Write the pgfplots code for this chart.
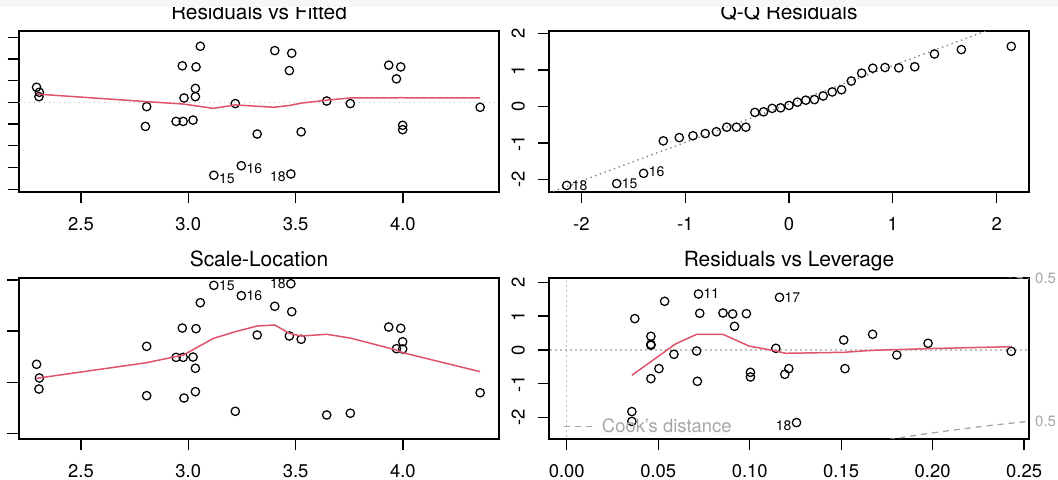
\documentclass[border=0pt]{standalone}
\usepackage{pgfplots}
\pgfplotsset{compat=1.18}
\usepackage{fontspec}
\setmainfont{TeX Gyre Heros}
\definecolor{rred}{HTML}{DF536B}
\definecolor{rgray}{HTML}{BEBEBE}
\definecolor{qqgray}{HTML}{808080}
\definecolor{cookgray}{HTML}{A6A6A6}
\definecolor{band}{HTML}{F7F7F7}
\tikzset{idlab/.style={inner sep=0pt, font=\fontsize{14}{15}\selectfont}}
\pgfplotsset{
  rpanel/.style={
    scale only axis, width=480bp, height=161bp, anchor=south west,
    axis line style={line width=1.3bp, black},
    major tick style={line width=1.3bp, black},
    tick align=outside, major tick length=11.5bp,
    tick pos=left, clip mode=individual,
    ticklabel style={font=\fontsize{18.5}{20}\selectfont},
    xticklabel style={anchor=base, yshift=-27bp},
    every axis title shift=0pt,
    title style={font=\fontsize{21}{23}\selectfont, anchor=base, at={(0.5,1)}, yshift=11.3bp},
  },
  pts/.style={only marks, mark=o, mark size=4.2bp, mark options={line width=1.25bp, black}},
  loess/.style={rred, line width=1.5bp, no marks},
  dotl/.style={rgray, line width=1.3bp, dash pattern=on 1.4bp off 3.6bp, no marks},
}
\begin{document}
\begin{tikzpicture}[x=1bp,y=1bp]
\path[use as bounding box] (0,0) rectangle (1058,480);

% Residuals vs Fitted
\begin{axis}[rpanel, at={(19bp,288bp)}, xmin=2.211, xmax=4.448, ymin=-2.065, ymax=1.642,
  xtick={2.5,3,3.5,4}, xticklabels={2.5,3.0,3.5,4.0},
  ytick={-2,-1.5,-1,-0.5,0,0.5,1,1.5}, yticklabels={},
  title={Residuals vs Fitted}]
\addplot[dotl] coordinates {(2.0,0) (4.6,0)};
\addplot[pts] table {
2.293 0.346
2.306 0.231
2.304 0.13
2.806 -0.10
2.80 -0.555
2.943 -0.44
2.976 -0.44
2.972 0.84
2.980 0.10
3.022 -0.41
3.033 0.32
3.033 0.13
3.036 0.815
3.056 1.29
3.119 -1.68
3.247 -1.46
3.219 -0.03
3.321 -0.73
3.403 1.19
3.471 0.73
3.482 1.13
3.478 -1.65
3.526 -0.68
3.645 0.03
3.755 -0.03
3.934 0.855
3.990 0.815
3.970 0.54
3.999 -0.53
3.999 -0.63
4.360 -0.115
};
\addplot[loess] table {
2.293 0.19
2.806 0.015
2.977 -0.04
3.117 -0.14
3.219 -0.06
3.397 -0.115
3.475 -0.07
3.526 -0.02
3.645 0.05
3.755 0.10
3.99 0.105
4.36 0.10
};
\node[idlab, anchor=west, xshift=5bp, yshift=-3bp] at (axis cs:3.119,-1.68) {15};
\node[idlab, anchor=west, xshift=5bp, yshift=-2.5bp] at (axis cs:3.247,-1.46) {16};
\node[idlab, anchor=east, xshift=-5bp, yshift=-3bp] at (axis cs:3.478,-1.65) {18};
\end{axis}

% Q-Q Residuals
\begin{axis}[rpanel, at={(549bp,288bp)}, xmin=-2.312, xmax=2.312, ymin=-2.34, ymax=2.07,
  xtick={-2,-1,0,1,2}, xticklabels={-2,-1,0,1,2},
  ytick={-2,-1,0,1,2}, yticklabels={-2,-1,0,1,2},
  yticklabel style={rotate=90, anchor=base}, yticklabel shift=12.8bp,
  title={Q-Q Residuals}]
\addplot[qqgray, line width=1.3bp, dash pattern=on 1.4bp off 3.6bp, no marks] coordinates {(-2.5,-2.5625) (2.5,2.7025)};
\addplot[pts] table {
-2.141 -2.16
-1.660 -2.11
-1.401 -1.83
-1.211 -0.94
-1.057 -0.85
-0.925 -0.80
-0.807 -0.74
-0.700 -0.69
-0.600 -0.565
-0.506 -0.565
-0.416 -0.565
-0.329 -0.16
-0.245 -0.145
-0.162 -0.05
-0.081 -0.035
0.000 0.03
0.081 0.12
0.162 0.175
0.245 0.19
0.329 0.29
0.416 0.40
0.506 0.46
0.600 0.70
0.700 0.915
0.807 1.05
0.925 1.07
1.057 1.06
1.211 1.09
1.401 1.44
1.660 1.56
2.141 1.65
};
\node[idlab, anchor=west, xshift=5bp] at (axis cs:-2.141,-2.16) {18};
\node[idlab, anchor=west, xshift=5bp] at (axis cs:-1.660,-2.11) {15};
\node[idlab, anchor=west, xshift=5bp, yshift=2bp] at (axis cs:-1.401,-1.83) {16};
\end{axis}

% Scale-Location
\begin{axis}[rpanel, at={(19bp,41bp)}, xmin=2.211, xmax=4.448, ymin=-0.056, ymax=1.52,
  xtick={2.5,3,3.5,4}, xticklabels={2.5,3.0,3.5,4.0},
  ytick={0,0.5,1,1.5}, yticklabels={},
  title={Scale-Location}]
\addplot[pts] table {
2.293 0.675
2.306 0.541
2.304 0.433
2.806 0.851
2.806 0.368
2.943 0.743
2.976 0.743
2.972 1.030
2.980 0.345
3.022 0.746
3.033 0.636
3.033 0.407
3.036 1.024
3.056 1.278
3.119 1.448
3.247 1.347
3.219 0.215
3.321 0.962
3.403 1.243
3.471 0.952
3.482 1.190
3.478 1.464
3.526 0.920
3.645 0.179
3.755 0.196
3.934 1.040
3.990 1.027
3.970 0.828
3.999 0.896
3.999 0.825
4.360 0.397
};
\addplot[loess] table {
2.293 0.538
2.806 0.691
2.977 0.766
3.117 0.929
3.219 0.994
3.321 1.050
3.403 1.060
3.471 0.978
3.526 0.952
3.645 0.969
3.755 0.932
3.970 0.815
3.999 0.789
4.360 0.603
};
\node[idlab, anchor=west, xshift=5bp] at (axis cs:3.119,1.448) {15};
\node[idlab, anchor=west, xshift=5bp] at (axis cs:3.247,1.347) {16};
\node[idlab, anchor=east, xshift=-5bp] at (axis cs:3.478,1.464) {18};
\end{axis}

% Residuals vs Leverage
\begin{axis}[rpanel, at={(549bp,41bp)}, xmin=-0.0097, xmax=0.2527, ymin=-2.63, ymax=2.127,
  xtick={0,0.05,0.1,0.15,0.2,0.25}, xticklabels={0.00,0.05,0.10,0.15,0.20,0.25},
  ytick={-2,-1,0,1,2}, yticklabels={-2,-1,0,1,2},
  yticklabel style={rotate=90, anchor=base}, yticklabel shift=12.8bp,
  title={Residuals vs Leverage},
  legend style={at={(axis cs:-0.0018,-2.266)}, anchor=west, draw=none, fill=none,
    inner sep=0pt, nodes={inner sep=0pt, text=cookgray},
    font=\fontsize{18.5}{20}\selectfont,
    /tikz/every odd column/.append style={column sep=4bp}},
  legend image code/.code={\draw[#1] (0bp,0bp) -- (33bp,0bp);}]
\addplot[cookgray, line width=1.3bp, dash pattern=on 6bp off 5bp, no marks] table {
0.17 -2.706
0.18 -2.614
0.19 -2.529
0.20 -2.449
0.21 -2.375
0.22 -2.306
0.23 -2.241
0.24 -2.179
0.25 -2.121
0.26 -2.066
};
\addplot[cookgray, line width=1.3bp, dash pattern=on 6bp off 5bp, no marks, forget plot] table {
0.24 2.179
0.25 2.121
0.26 2.066
};
\addplot[dotl, forget plot] coordinates {(-0.05,0) (0.3,0)};
\addplot[dotl, forget plot] coordinates {(0,-3) (0,3)};
\addplot[pts, forget plot] table {
0.0372 0.926
0.0356 -1.82
0.0356 -2.11
0.0460 0.404
0.0460 0.167
0.0460 0.138
0.0460 -0.847
0.0504 -0.551
0.0535 1.438
0.0586 -0.128
0.0710 -0.030
0.0714 -0.926
0.0720 1.654
0.0727 1.083
0.0854 1.093
0.0907 1.064
0.0917 0.699
0.0982 1.073
0.1004 -0.660
0.1004 -0.798
0.1143 0.049
0.1163 1.556
0.1192 -0.719
0.1214 -0.551
0.1256 -2.146
0.1514 0.295
0.1521 -0.551
0.1672 0.463
0.1804 -0.148
0.1975 0.197
0.2430 -0.040
};
\addplot[loess, forget plot] table {
0.0356 -0.748
0.0594 0.177
0.0710 0.463
0.0854 0.463
0.0995 0.118
0.1143 -0.030
0.1196 -0.098
0.1514 -0.069
0.1672 -0.010
0.1975 0.040
0.2430 0.098
};
\legend{Cook's distance}
\node[idlab, anchor=west, xshift=5bp] at (axis cs:0.0720,1.654) {11};
\node[idlab, anchor=west, xshift=5bp] at (axis cs:0.1163,1.556) {17};
\node[idlab, anchor=east, xshift=-5bp, yshift=-3bp] at (axis cs:0.1256,-2.146) {18};
\node[idlab, anchor=west, text=cookgray, font=\fontsize{15}{16}\selectfont, xshift=6bp] at (axis cs:0.2527,2.105) {0.5};
\node[idlab, anchor=west, text=cookgray, font=\fontsize{15}{16}\selectfont, xshift=6bp] at (axis cs:0.2527,-2.105) {0.5};
\end{axis}

\fill[band] (0,473) rectangle (1058,480);
\end{tikzpicture}
\end{document}
